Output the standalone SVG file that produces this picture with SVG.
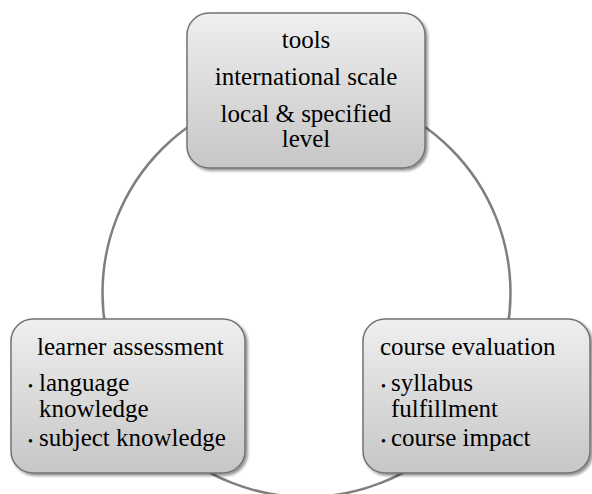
<svg xmlns="http://www.w3.org/2000/svg" width="592" height="494" viewBox="0 0 592 494">
<style>
.box{fill:url(#g);stroke:#737373;stroke-width:1.5;filter:url(#sh)}
.t{font-family:'Liberation Serif','Times New Roman',Times,serif;font-size:25px;fill:#000}
.c{text-anchor:middle}
.b{font-size:14px}
.conn{fill:none;stroke:#7f7f7f;stroke-width:2.5}
</style>
<defs>
<linearGradient id="g" x1="0" y1="0" x2="0" y2="1">
<stop offset="0" stop-color="#efefef"/>
<stop offset="1" stop-color="#c6c6c6"/>
</linearGradient>
<filter id="sh" x="-10%" y="-10%" width="125%" height="125%">
<feGaussianBlur in="SourceAlpha" stdDeviation="1.5"/>
<feOffset dx="1.5" dy="2" result="o"/>
<feComponentTransfer><feFuncA type="linear" slope="0.45"/></feComponentTransfer>
<feMerge><feMergeNode/><feMergeNode in="SourceGraphic"/></feMerge>
</filter>
</defs>
<g id="connectors">
<circle class="conn" cx="306.5" cy="293" r="204"/>
</g>
<g id="tools">
<rect class="box" x="187" y="13" width="238" height="155" rx="22"/>
<text class="t c" x="306" y="48">tools</text>
<text class="t c" x="306" y="85">international scale</text>
<text class="t c" x="306" y="122">local &amp; specified</text>
<text class="t c" x="306" y="147">level</text>
</g>
<g id="learner-assessment">
<rect class="box" x="11" y="319" width="234" height="154" rx="22"/>
<text class="t" x="37" y="355">learner assessment</text>
<text class="t" x="28" y="391"><tspan class="b">•</tspan><tspan x="39">language</tspan></text>
<text class="t" x="39" y="417">knowledge</text>
<text class="t" x="28" y="446"><tspan class="b">•</tspan><tspan x="39">subject knowledge</tspan></text>
</g>
<g id="course-evaluation">
<rect class="box" x="363" y="319" width="227" height="154" rx="22"/>
<text class="t" x="380" y="355">course evaluation</text>
<text class="t" x="381" y="391"><tspan class="b">•</tspan><tspan x="391">syllabus</tspan></text>
<text class="t" x="391" y="417">fulfillment</text>
<text class="t" x="381" y="446"><tspan class="b">•</tspan><tspan x="391">course impact</tspan></text>
</g>
</svg>
